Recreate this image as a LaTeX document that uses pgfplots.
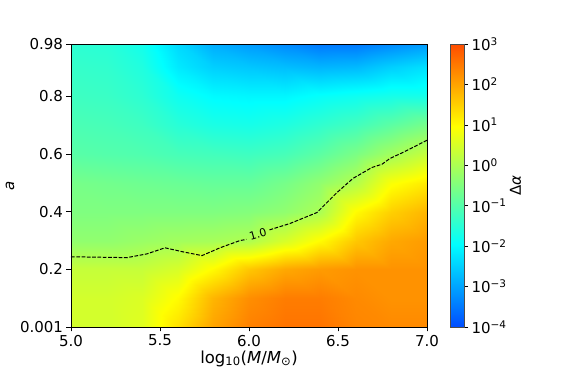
\documentclass[border=0pt]{standalone}
\usepackage{fontspec}
\setmainfont{DejaVu Sans}
\usepackage{pgfplots}
\pgfplotsset{compat=1.18}
\begin{document}
\begin{tikzpicture}
\useasboundingbox (-71bp,-42bp) rectangle (502bp,327bp);
\begin{axis}[
  at={(0,0)}, anchor=south west,
  scale only axis, width=356bp, height=283bp,
  view={0}{90},
  xmin=5, xmax=7, ymin=0.001, ymax=0.98,
  xtick={5,5.5,6,6.5,7}, xticklabels={5.0,5.5,6.0,6.5,7.0},
  ytick={0.001,0.2,0.4,0.6,0.8,0.98}, yticklabels={0.001,0.2,0.4,0.6,0.8,0.98},
  ztick=\empty,
  tick pos=left, tick align=outside, major tick length=4.5bp,
  every tick/.style={black, line width=0.6bp},
  axis line style={line width=0.6bp, black},
  /pgf/number format/assume math mode=true,
  tick label style={font=\fontsize{15bp}{17bp}\selectfont},
  label style={font=\fontsize{16.5bp}{18bp}\selectfont},
  xlabel={log\textsubscript{10}(\textit{M}/\textit{M}\textsubscript{⊙})},
  ylabel={\textit{a}},
  xlabel style={at={(axis description cs:0.5,0)}, anchor=north, yshift=-20bp},
  ylabel style={at={(axis description cs:-0.171,0.5)}, anchor=center, font=\fontsize{15bp}{17bp}\selectfont},
  colormap={truncjet}{rgb(0pt)=(0,0.3,1); rgb(35pt)=(0,1,1); rgb(60pt)=(0.5,1,0.5); rgb(85pt)=(1,1,0); rgb(120pt)=(1,0.3,0)},
  point meta min=-4, point meta max=3,
  colorbar,
  colorbar style={
    at={(parent axis.north east)}, anchor=north west, xshift=15bp,
    width=14bp,
    ytick={-4,-3,-2,-1,0,1,2,3},
    yticklabels={10\textsuperscript{−4},10\textsuperscript{−3},10\textsuperscript{−2},10\textsuperscript{−1},10\textsuperscript{0},10\textsuperscript{1},10\textsuperscript{2},10\textsuperscript{3}},
    yticklabel style={font=\fontsize{15bp}{17bp}\selectfont},
    tick pos=right, yticklabel pos=right,
    tick align=outside, major tick length=3.5bp,
    ylabel={Δ\textit{α}},
    ylabel style={at={(axis description cs:4.64,0.5)}, anchor=center, font=\fontsize{15bp}{17bp}\selectfont},
    axis line style={line width=0.6bp, black!70},
  },
]
\addplot3[surf, shader=interp, mesh/rows=11, mesh/cols=11] table {
x y v
5.0 0.001 0.45
5.2 0.001 0.45
5.4 0.001 0.6
5.6 0.001 1.3
5.8 0.001 2.0
6.0 0.001 2.4
6.2 0.001 2.55
6.4 0.001 2.55
6.6 0.001 2.35
6.8 0.001 2.3
7.0 0.001 2.3
5.0 0.1 0.45
5.2 0.1 0.45
5.4 0.1 0.55
5.6 0.1 1.0
5.8 0.1 1.8
6.0 0.1 2.25
6.2 0.1 2.45
6.4 0.1 2.45
6.6 0.1 2.3
6.8 0.1 2.2
7.0 0.1 2.2
5.0 0.2 0.3
5.2 0.2 0.3
5.4 0.2 0.3
5.6 0.2 0.5
5.8 0.2 1.0
6.0 0.2 1.6
6.2 0.2 1.95
6.4 0.2 2.1
6.6 0.2 2.2
6.8 0.2 2.2
7.0 0.2 2.2
5.0 0.3 -0.3
5.2 0.3 -0.3
5.4 0.3 -0.2
5.6 0.3 -0.1
5.8 0.3 -0.05
6.0 0.3 0.05
6.2 0.3 0.5
6.4 0.3 1.0
6.6 0.3 1.6
6.8 0.3 1.95
7.0 0.3 2.1
5.0 0.4 -0.5
5.2 0.4 -0.5
5.4 0.4 -0.5
5.6 0.4 -0.5
5.8 0.4 -0.5
6.0 0.4 -0.45
6.2 0.4 -0.3
6.4 0.4 0.0
6.6 0.4 1.0
6.8 0.4 1.5
7.0 0.4 1.8
5.0 0.5 -0.6
5.2 0.5 -0.65
5.4 0.5 -0.7
5.6 0.5 -0.75
5.8 0.5 -0.8
6.0 0.5 -0.8
6.2 0.5 -0.6
6.4 0.5 -0.3
6.6 0.5 0.1
6.8 0.5 0.9
7.0 0.5 1.2
5.0 0.6 -0.95
5.2 0.6 -1.0
5.4 0.6 -1.05
5.6 0.6 -1.15
5.8 0.6 -1.2
6.0 0.6 -1.25
6.2 0.6 -1.15
6.4 0.6 -0.9
6.6 0.6 -0.55
6.8 0.6 -0.1
7.0 0.6 0.3
5.0 0.7 -1.1
5.2 0.7 -1.15
5.4 0.7 -1.25
5.6 0.7 -1.5
5.8 0.7 -1.65
6.0 0.7 -1.7
6.2 0.7 -1.6
6.4 0.7 -1.4
6.6 0.7 -1.2
6.8 0.7 -0.9
7.0 0.7 -0.6
5.0 0.8 -1.25
5.2 0.8 -1.3
5.4 0.8 -1.45
5.6 0.8 -1.8
5.8 0.8 -2.0
6.0 0.8 -2.05
6.2 0.8 -2.05
6.4 0.8 -1.9
6.6 0.8 -1.8
6.8 0.8 -1.7
7.0 0.8 -1.7
5.0 0.9 -1.35
5.2 0.9 -1.4
5.4 0.9 -1.6
5.6 0.9 -2.2
5.8 0.9 -2.5
6.0 0.9 -2.6
6.2 0.9 -2.7
6.4 0.9 -2.8
6.6 0.9 -2.75
6.8 0.9 -2.5
7.0 0.9 -2.3
5.0 0.98 -1.45
5.2 0.98 -1.5
5.4 0.98 -1.75
5.6 0.98 -2.4
5.8 0.98 -2.9
6.0 0.98 -3.1
6.2 0.98 -3.3
6.4 0.98 -3.5
6.6 0.98 -3.5
6.8 0.98 -3.3
7.0 0.98 -3.1
};
\addplot3[black, line width=1bp, dash pattern=on 3.7bp off 1.6bp] coordinates {
(5.0,0.244,3) (5.315,0.241,3) (5.427,0.254,3) (5.528,0.275,3) (5.629,0.261,3) (5.736,0.248,3) (5.837,0.275,3) (5.949,0.300,3) (5.985,0.304,3)
};
\addplot3[black, line width=1bp, dash pattern=on 3.7bp off 1.6bp] coordinates {
(6.115,0.337,3) (6.230,0.359,3) (6.382,0.397,3) (6.494,0.466,3) (6.584,0.515,3) (6.691,0.553,3) (6.747,0.564,3) (6.792,0.584,3) (6.865,0.605,3) (7.0,0.647,3)
};
\node[rotate=16, font=\fontsize{11bp}{13bp}\selectfont, inner sep=0pt] at (axis cs:6.05,0.322,3) {1.0};
\end{axis}
\end{tikzpicture}
\end{document}
